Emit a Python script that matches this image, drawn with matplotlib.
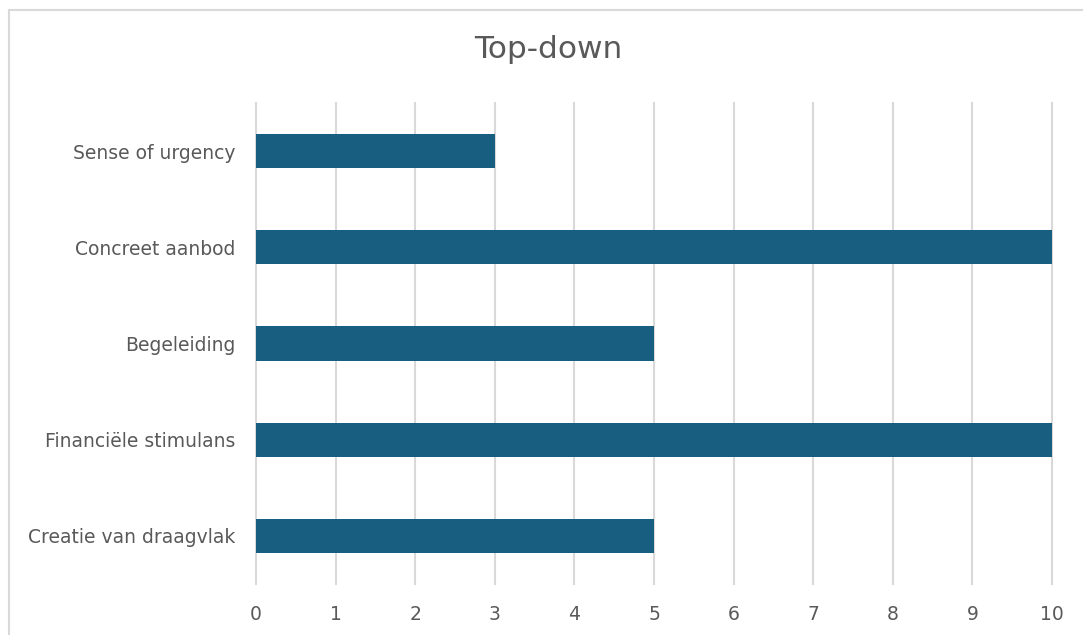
import matplotlib
matplotlib.use("Agg")
import matplotlib.pyplot as plt
from matplotlib.patches import Rectangle

categories = ["Creatie van draagvlak", "Financiële stimulans", "Begeleiding",
              "Concreet aanbod", "Sense of urgency"]
values = [5, 10, 5, 10, 3]
x_ticks = list(range(0, 11))
title = "Top-down"

W, H = 1083, 635
fig = plt.figure(figsize=(W / 100, H / 100), dpi=100)
fig.patch.set_facecolor("white")

# chart border (top and left visible, right/bottom cut off)
fig.patches.append(Rectangle((9 / W, -0.05), 1.2, 1 - 10 / H + 0.05,
                             transform=fig.transFigure, fill=False,
                             edgecolor="#d9d9d9", linewidth=1.5))

left, right = 256 / W, 1052 / W
bottom, top = 1 - 584 / H, 1 - 103 / H
ax = fig.add_axes([left, bottom, right - left, top - bottom])

ypos = list(range(len(categories)))
ax.barh(ypos, values, height=0.355, color="#185E80", zorder=3)
ax.set_xlim(0, 10)
ax.set_ylim(-0.5, len(categories) - 0.5)
ax.set_xticks(x_ticks)
ax.set_xticklabels([str(t) for t in x_ticks])
ax.set_yticks(ypos)
ax.set_yticklabels(categories)

ax.grid(axis="x", color="#d9d9d9", linewidth=1.5, zorder=0)
for gl in ax.get_xgridlines():
    gl.set_clip_on(False)
for s in ax.spines.values():
    s.set_visible(False)
ax.tick_params(axis="both", length=0, labelsize=13.5, labelcolor="#595959")
ax.tick_params(axis="x", pad=15)
ax.tick_params(axis="y", pad=15)

fig.text(548 / W, 1 - 50 / H, title, ha="center", va="center",
         fontsize=22.5, color="#595959")

fig.savefig("out.png", dpi=100)
